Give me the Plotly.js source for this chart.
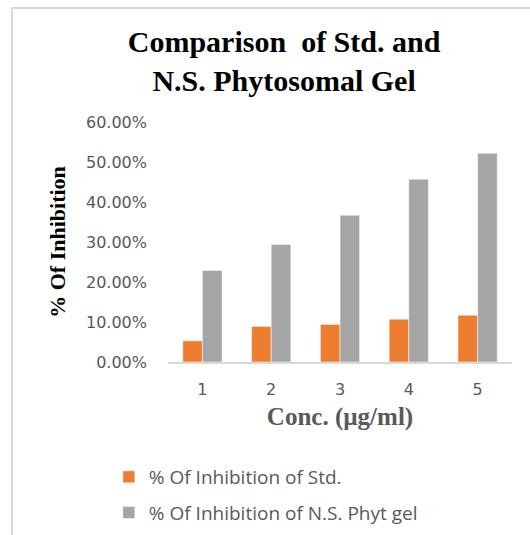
<!DOCTYPE html>
<html>
<head>
<meta charset="utf-8">
<script src="https://cdn.plot.ly/plotly-3.0.1.min.js"></script>
<style>
  html, body { margin: 0; padding: 0; background: #fff; }
  #wrap { position: relative; width: 530px; height: 535px; }
  #chart { width: 530px; height: 535px; }
  #frame { position: absolute; left: 11px; top: 7px; width: 540px; height: 540px;
           border-left: 2px solid #d9d9d9; border-top: 2px solid #d9d9d9; pointer-events: none; }
</style>
</head>
<body>
<div id="wrap">
  <div id="chart"></div>
  <div id="frame"></div>
</div>
<script>
const categories = ['1', '2', '3', '4', '5'];
const stdValues = [0.053, 0.089, 0.094, 0.107, 0.117];
const gelValues = [0.229, 0.294, 0.367, 0.457, 0.522];
const seriesNames = ['% Of Inhibition of Std.', '% Of Inhibition of N.S. Phyt gel'];
const yTicks = [0, 0.1, 0.2, 0.3, 0.4, 0.5, 0.6];

const tickFont = { family: 'DejaVu Sans, sans-serif', size: 16, color: '#595959' };
const serif = 'Liberation Serif, Times New Roman, serif';

const traces = [
  { type: 'bar', x: categories, y: stdValues, name: seriesNames[0], legendgroup: 'a',
    marker: { color: '#ED7D31', line: { color: '#ffffff', width: 0.5 } } },
  { type: 'bar', x: categories, y: gelValues, name: seriesNames[1], legendgroup: 'b',
    marker: { color: '#A5A5A5', line: { color: '#ffffff', width: 0.5 } } }
];

const layout = {
  width: 530, height: 535,
  margin: { l: 168, r: 18, t: 122, b: 173 },
  paper_bgcolor: '#ffffff', plot_bgcolor: '#ffffff',
  barmode: 'group', bargap: 0.43, bargroupgap: 0,
  title: {
    text: 'Comparison  of Std. and<br>N.S. Phytosomal Gel',
    font: { family: serif, size: 30, color: '#000000', weight: 'bold' },
    xref: 'container', yref: 'container', x: 0.536, xanchor: 'center',
    y: 1 - 52 / 535, yanchor: 'top'
  },
  xaxis: {
    type: 'category',
    showline: true, linecolor: '#d9d9d9', linewidth: 1.5,
    showgrid: false, zeroline: false, ticks: '',
    tickfont: tickFont, ticklabelstandoff: 12,
    title: { text: 'Conc. (µg/ml)', standoff: 10,
      font: { family: serif, size: 25, color: '#595959', weight: 'bold' } }
  },
  yaxis: {
    range: [0, 0.6], tickvals: yTicks, tickformat: '.2%',
    showline: false, showgrid: false, zeroline: false, ticks: '',
    tickfont: tickFont, ticklabelstandoff: 20,
    title: { text: '% Of Inhibition', standoff: 14,
      font: { family: serif, size: 22, color: '#000000', weight: 'bold' } }
  },
  showlegend: true,
  legend: {
    orientation: 'v', xref: 'paper', yref: 'container',
    x: -0.172, xanchor: 'left', y: 3 / 535, yanchor: 'bottom',
    font: { family: 'Open Sans, sans-serif', size: 19, color: '#595959' },
    traceorder: 'grouped', tracegroupgap: 8, bgcolor: 'rgba(0,0,0,0)'
  }
};

Plotly.newPlot('chart', traces, layout, { displayModeBar: false, staticPlot: true });
</script>
</body>
</html>
